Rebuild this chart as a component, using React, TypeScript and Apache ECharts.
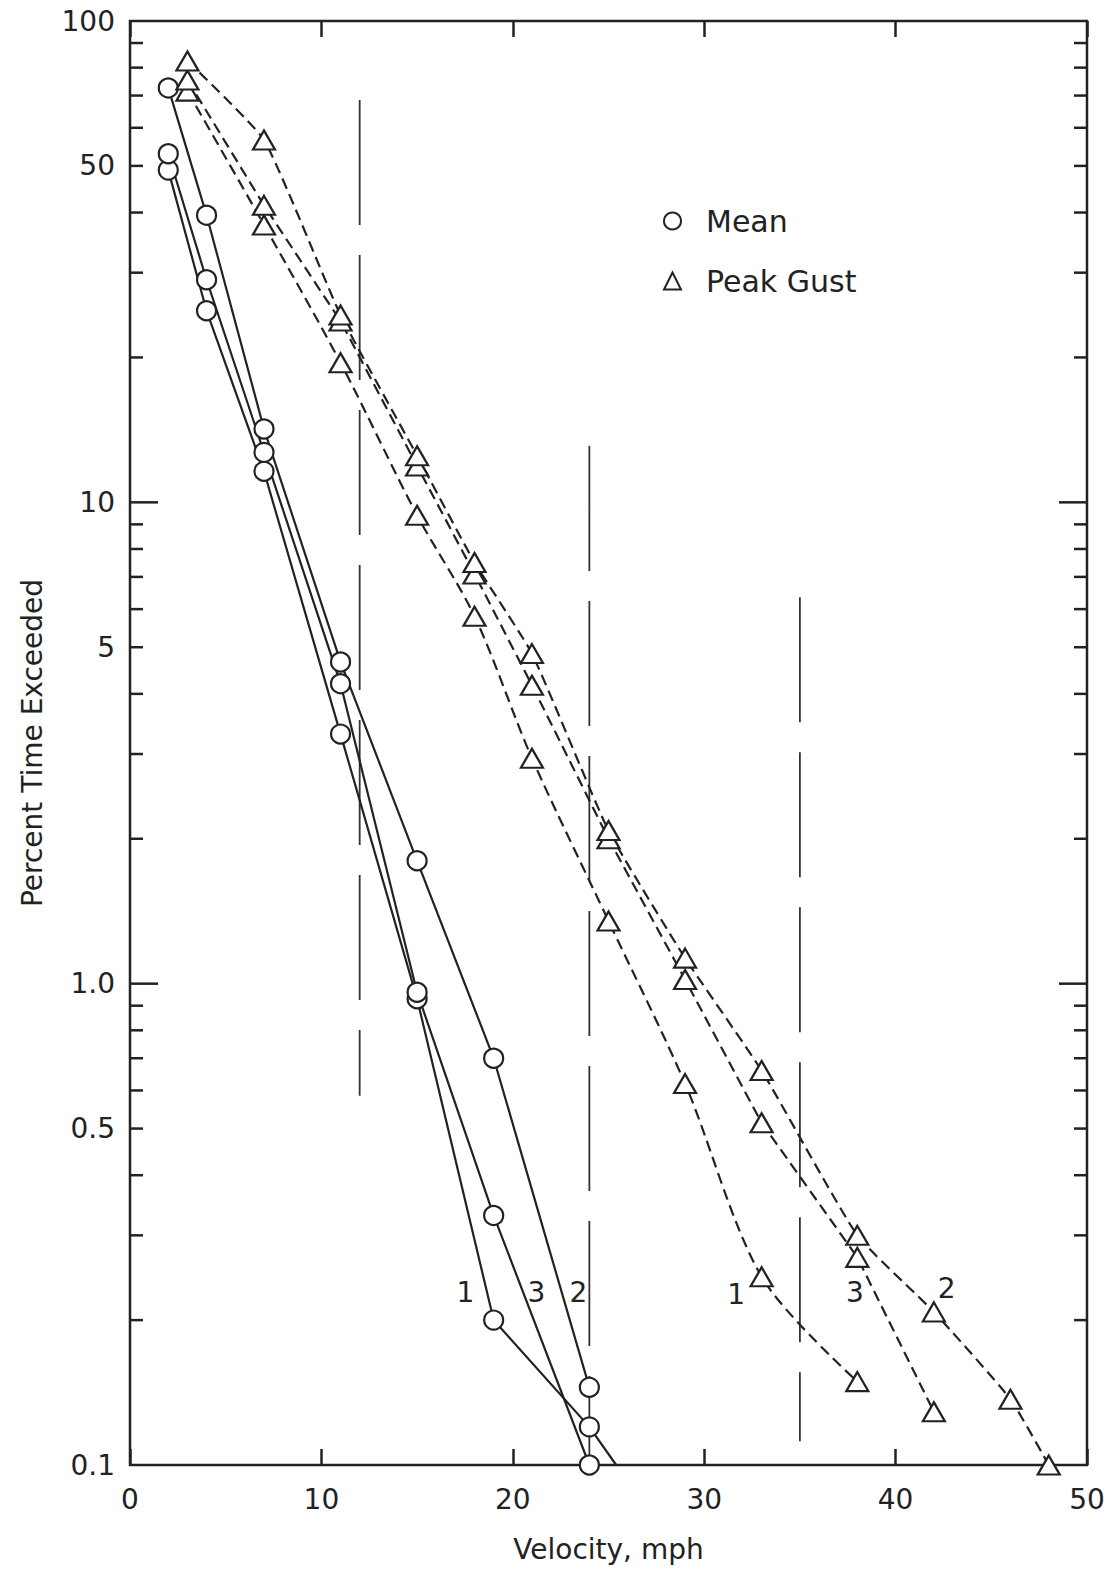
import React, { useEffect, useRef } from "react";
import * as echarts from "echarts";

// ---- data ----
// Mean velocity curves (solid lines, circles)
const meanVel1 = [2, 4, 7, 11, 15, 19, 24, 25.4];
const meanPct1 = [49, 25, 11.6, 3.3, 0.93, 0.2, 0.12, 0.1];
const meanVel3 = [2, 4, 7, 11, 15, 19, 24];
const meanPct3 = [53, 29, 12.7, 4.2, 0.96, 0.33, 0.1];
const meanVel2 = [2, 4, 7, 11, 15, 19, 24];
const meanPct2 = [72.6, 39.5, 14.2, 4.66, 1.8, 0.7, 0.145];

// Peak gust curves (dashed lines, triangles)
const peakVel1 = [3, 7, 11, 15, 18, 21, 25, 29, 33, 38];
const peakPct1 = [71.5, 37.7, 19.5, 9.4, 5.8, 2.94, 1.35, 0.62, 0.246, 0.149];
const peakVel3 = [3, 7, 11, 15, 18, 21, 25, 29, 33, 38, 42];
const peakPct3 = [75.4, 41.4, 23.8, 11.9, 7.1, 4.17, 2.0, 1.02, 0.514, 0.27, 0.129];
const peakVel2 = [3, 7, 11, 15, 18, 21, 25, 29, 33, 38, 42, 46, 48];
const peakPct2 = [82.6, 56.6, 24.5, 12.5, 7.5, 4.85, 2.08, 1.13, 0.66, 0.3, 0.208, 0.137, 0.1];

// Vertical long-dashed reference lines
const refX = [12, 24, 35];
const refTop = [68.5, 13.1, 6.35];
const refBottom = [0.585, 0.1, 0.112];

// Curve number annotations
const curveLabelX = [17.55, 21.26, 23.46, 31.7, 37.9, 42.7];
const curveLabelY = [0.228, 0.228, 0.228, 0.225, 0.228, 0.232];
const curveLabelText = ["1", "3", "2", "1", "3", "2"];

// Axis ticks / labels
const xTickValues = [0, 10, 20, 30, 40, 50];
const yLabelValues = [0.1, 0.5, 1, 5, 10, 50, 100];
const yLabelTexts = ["0.1", "0.5", "1.0", "5", "10", "50", "100"];
const yMinorTicks = [0.2, 0.3, 0.4, 0.5, 0.6, 0.7, 0.8, 0.9, 2, 3, 4, 5, 6, 7, 8, 9, 20, 30, 40, 50, 60, 70, 80, 90];
const yMajorTicks = [1, 10];

const INK = "#222";
const FONT = "DejaVu Sans";

function pairs(xs: number[], ys: number[]) {
  return xs.map((x, i) => [x, ys[i]]);
}

function meanSeries(xs: number[], ys: number[], lastNoSymbol = false) {
  const data: any[] = pairs(xs, ys);
  if (lastNoSymbol) {
    const last = data[data.length - 1];
    data[data.length - 1] = { value: last, symbol: "none" };
  }
  return {
    type: "line",
    name: "Mean",
    data,
    z: 4,
    symbol: "circle",
    symbolSize: 19,
    showAllSymbol: true,
    lineStyle: { color: INK, width: 2.2 },
    itemStyle: { color: "#fff", borderColor: INK, borderWidth: 2.2 },
    emphasis: { disabled: true },
  };
}

function peakSeries(xs: number[], ys: number[], smooth: number | boolean = false) {
  return {
    type: "line",
    name: "Peak Gust",
    data: pairs(xs, ys),
    z: 4,
    smooth,
    symbol: "triangle",
    symbolSize: [22, 19],
    showAllSymbol: true,
    lineStyle: { color: INK, width: 2.2, type: [11, 6] },
    itemStyle: { color: "#fff", borderColor: INK, borderWidth: 2.2 },
    emphasis: { disabled: true },
  };
}

export default function App() {
  const ref = useRef<HTMLDivElement>(null);

  useEffect(() => {
    if (!ref.current) return;
    document.body.style.margin = "0";
    const chart = echarts.init(ref.current, null, { renderer: "svg" });

    const tickData = [
      ...yMinorTicks.map((v) => [0, v, 0]),
      ...yMajorTicks.map((v) => [0, v, 1]),
    ];

    const refSeries = refX.map((x, i) => ({
      type: "line",
      name: "ref" + i,
      data: [
        [x, refTop[i]],
        [x, refBottom[i]],
      ],
      symbol: "none",
      z: 2,
      lineStyle: { color: "#333", width: 1.8, type: [125, 30] },
      emphasis: { disabled: true },
    }));

    const option: any = {
      animation: false,
      backgroundColor: "#fff",
      textStyle: { fontFamily: FONT, color: INK },
      grid: {
        left: 130,
        top: 21,
        width: 957,
        height: 1444,
        show: true,
        borderColor: INK,
        borderWidth: 2.5,
        backgroundColor: "transparent",
      },
      legend: {
        orient: "vertical",
        left: 658,
        top: 201,
        itemWidth: 17,
        itemHeight: 17,
        itemGap: 30,
        selectedMode: false,
        textStyle: { fontSize: 30, color: INK, fontFamily: FONT, padding: [0, 0, 0, 20] },
        data: [
          { name: "Mean", icon: "circle", itemStyle: { color: "#fff", borderColor: INK, borderWidth: 2 } },
          { name: "Peak Gust", icon: "triangle", itemStyle: { color: "#fff", borderColor: INK, borderWidth: 2 } },
        ],
      },
      xAxis: [
        {
          type: "value",
          position: "bottom",
          min: xTickValues[0],
          max: xTickValues[xTickValues.length - 1],
          interval: 10,
          axisLine: { show: false },
          axisTick: { show: true, inside: true, length: 16, lineStyle: { color: INK, width: 2.5 } },
          axisLabel: { fontSize: 28, color: INK, margin: 20, fontFamily: FONT },
          splitLine: { show: false },
          name: "Velocity, mph",
          nameLocation: "middle",
          nameGap: 70,
          nameTextStyle: { fontSize: 28, color: INK, fontFamily: FONT },
        },
        {
          type: "value",
          position: "top",
          min: xTickValues[0],
          max: xTickValues[xTickValues.length - 1],
          interval: 10,
          axisLine: { show: false },
          axisTick: { show: true, inside: true, length: 16, lineStyle: { color: INK, width: 2.5 } },
          axisLabel: { show: false },
          splitLine: { show: false },
        },
      ],
      yAxis: {
        type: "log",
        logBase: 10,
        min: 0.1,
        max: 100,
        axisLine: { show: false },
        axisTick: { show: false },
        splitLine: { show: false },
        axisLabel: {
          customValues: yLabelValues,
          fontSize: 28,
          color: INK,
          margin: 15,
          fontFamily: FONT,
          formatter: (v: number) => {
            for (let i = 0; i < yLabelValues.length; i++) {
              if (Math.abs(Math.log10(v) - Math.log10(yLabelValues[i])) < 1e-6) return yLabelTexts[i];
            }
            return "";
          },
        },
        name: "Percent Time Exceeded",
        nameLocation: "middle",
        nameGap: 84,
        nameTextStyle: { fontSize: 28, color: INK, fontFamily: FONT },
      },
      series: [
        ...refSeries,
        meanSeries(meanVel1, meanPct1, true),
        meanSeries(meanVel3, meanPct3),
        meanSeries(meanVel2, meanPct2),
        peakSeries(peakVel1, peakPct1, 0.3),
        peakSeries(peakVel3, peakPct3),
        peakSeries(peakVel2, peakPct2, 0.15),
        {
          type: "custom",
          name: "yticks",
          data: tickData,
          encode: { x: 0, y: 1 },
          z: 5,
          silent: true,
          renderItem: (params: any, api: any) => {
            const v = api.value(1);
            const major = api.value(2);
            const p = api.coord([0, v]);
            const cs = params.coordSys;
            const len = major ? 28 : 13;
            return {
              type: "group",
              children: [
                {
                  type: "line",
                  shape: { x1: cs.x, y1: p[1], x2: cs.x + len, y2: p[1] },
                  style: { stroke: INK, lineWidth: 2.5 },
                },
                {
                  type: "line",
                  shape: { x1: cs.x + cs.width - len, y1: p[1], x2: cs.x + cs.width, y2: p[1] },
                  style: { stroke: INK, lineWidth: 2.5 },
                },
              ],
            };
          },
        },
        {
          type: "scatter",
          name: "curveLabels",
          data: curveLabelX.map((x, i) => ({ value: [x, curveLabelY[i]], name: curveLabelText[i] })),
          symbolSize: 1,
          itemStyle: { color: "rgba(255,255,255,0)", opacity: 1 },
          silent: true,
          z: 6,
          label: {
            show: true,
            position: [0, 0],
            align: "center",
            verticalAlign: "middle",
            formatter: "{b}",
            fontSize: 28,
            color: INK,
            opacity: 1,
            textBorderWidth: 0,
            fontFamily: FONT,
          },
          emphasis: { disabled: true },
        },
      ],
    };

    chart.setOption(option);
    return () => chart.dispose();
  }, []);

  return <div ref={ref} style={{ width: 1119, height: 1572 }} />;
}
